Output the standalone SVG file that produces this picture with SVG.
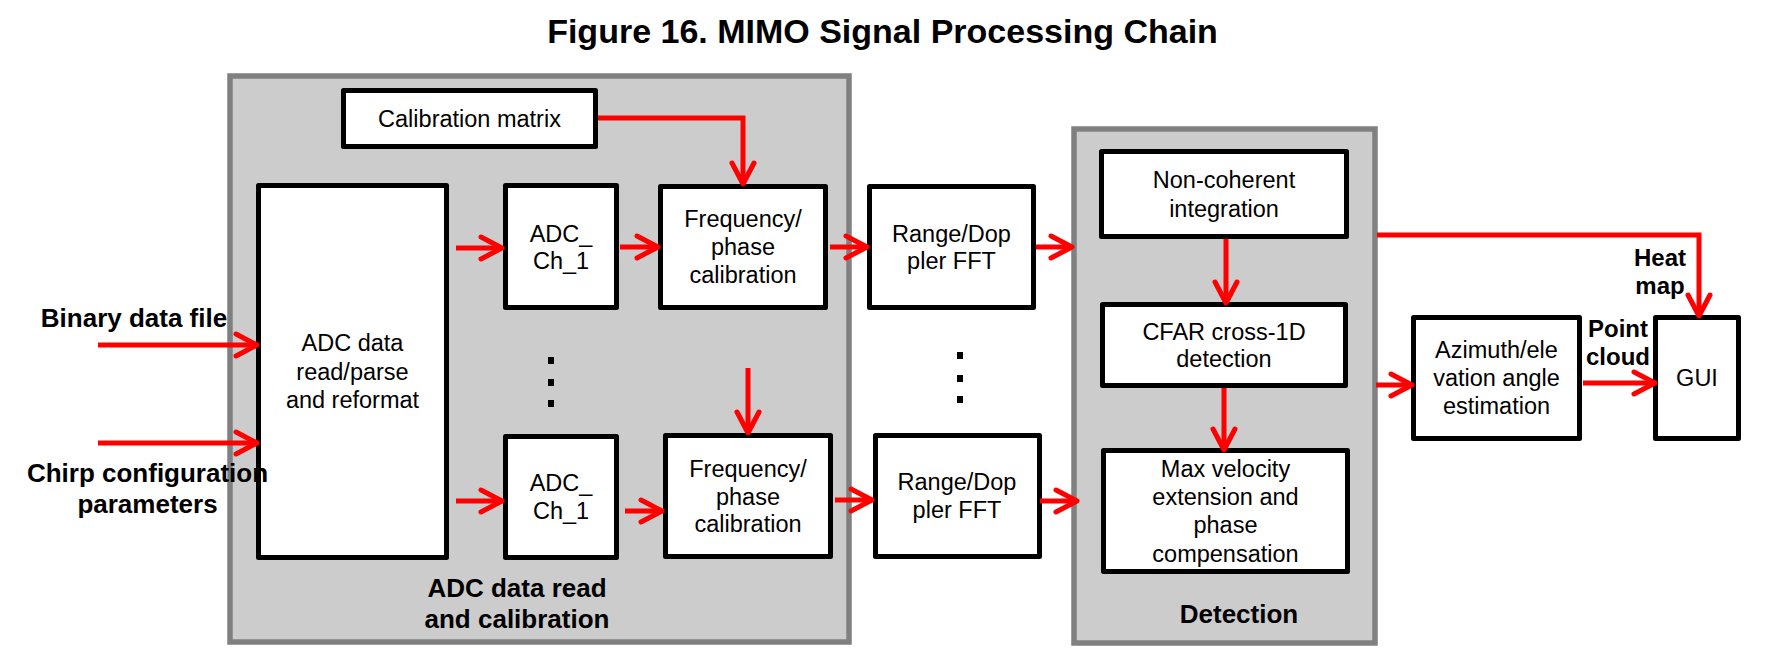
<svg xmlns="http://www.w3.org/2000/svg" width="1784" height="671" viewBox="0 0 1784 671">
<defs>
<style>
.grp{fill:#cccccc;stroke:#808080;stroke-width:5.5}
.box{fill:#ffffff;stroke:#000000;stroke-width:5;stroke-linejoin:round}
.t{font-family:"Liberation Sans",Arial,sans-serif;font-size:23.5px;fill:#000000;text-anchor:middle}
.b{font-family:"Liberation Sans",Arial,sans-serif;font-size:26px;font-weight:bold;fill:#000000;text-anchor:middle}
.bs{font-family:"Liberation Sans",Arial,sans-serif;font-size:24px;font-weight:bold;fill:#000000;text-anchor:middle}
.title{font-family:"Liberation Sans",Arial,sans-serif;font-size:34px;font-weight:bold;fill:#000000;text-anchor:middle}
.c{fill:none;stroke:#ff0000;stroke-width:5;marker-end:url(#ah)}
.dot{fill:#000000}
</style>
<marker id="ah" markerUnits="userSpaceOnUse" viewBox="-26 -14 30 28" markerWidth="30" markerHeight="28" refX="0" refY="0" orient="auto">
<path d="M-21,-11 L0,0 L-21,11" fill="none" stroke="#ff0000" stroke-width="5" stroke-linecap="round" stroke-linejoin="round"/>
</marker>
</defs>
<rect width="1784" height="671" fill="#ffffff"/>
<text class="title" x="882.5" y="43">Figure 16. MIMO Signal Processing Chain</text>

<g id="group-adc">
<rect class="grp" x="230" y="76" width="619" height="566"/>
<text class="b" x="517" y="597">ADC data read</text>
<text class="b" x="517" y="628">and calibration</text>
</g>
<g id="group-detection">
<rect class="grp" x="1074" y="129" width="301" height="514"/>
<text class="b" x="1239" y="623">Detection</text>
</g>

<g id="calibration-matrix">
<rect class="box" x="343.5" y="90.5" width="252" height="56"/>
<text class="t" x="469.5" y="127">Calibration matrix</text>
</g>
<g id="adc-read">
<rect class="box" x="258.5" y="185.5" width="188" height="372"/>
<text class="t" x="352.5" y="351">ADC data</text>
<text class="t" x="352.5" y="379.5">read/parse</text>
<text class="t" x="352.5" y="408">and reformat</text>
</g>
<g id="adc-ch-top">
<rect class="box" x="505.5" y="185.5" width="111" height="122"/>
<text class="t" x="561" y="242">ADC_</text>
<text class="t" x="561" y="269">Ch_1</text>
</g>
<g id="freq-top">
<rect class="box" x="660.5" y="186.5" width="165" height="121"/>
<text class="t" x="743" y="227">Frequency/</text>
<text class="t" x="743" y="255">phase</text>
<text class="t" x="743" y="283">calibration</text>
</g>
<g id="range-top">
<rect class="box" x="869.5" y="186.5" width="164" height="121"/>
<text class="t" x="951.5" y="242">Range/Dop</text>
<text class="t" x="951.5" y="269">pler FFT</text>
</g>
<g id="adc-ch-bottom">
<rect class="box" x="505.5" y="436.5" width="111" height="121"/>
<text class="t" x="561" y="491">ADC_</text>
<text class="t" x="561" y="519">Ch_1</text>
</g>
<g id="freq-bottom">
<rect class="box" x="665.5" y="435.5" width="165" height="121"/>
<text class="t" x="748" y="477">Frequency/</text>
<text class="t" x="748" y="505">phase</text>
<text class="t" x="748" y="532">calibration</text>
</g>
<g id="range-bottom">
<rect class="box" x="875.5" y="435.5" width="164" height="121"/>
<text class="t" x="957" y="490">Range/Dop</text>
<text class="t" x="957" y="518">pler FFT</text>
</g>
<g id="non-coherent">
<rect class="box" x="1101.5" y="151.5" width="245" height="85"/>
<text class="t" x="1224" y="188">Non-coherent</text>
<text class="t" x="1224" y="217">integration</text>
</g>
<g id="cfar">
<rect class="box" x="1102.5" y="304.5" width="243" height="81"/>
<text class="t" x="1224" y="340">CFAR cross-1D</text>
<text class="t" x="1224" y="367">detection</text>
</g>
<g id="max-velocity">
<rect class="box" x="1103.5" y="450.5" width="244" height="121"/>
<text class="t" x="1225.5" y="477">Max velocity</text>
<text class="t" x="1225.5" y="505">extension and</text>
<text class="t" x="1225.5" y="533">phase</text>
<text class="t" x="1225.5" y="562">compensation</text>
</g>
<g id="azimuth">
<rect class="box" x="1413.5" y="317.5" width="166" height="121"/>
<text class="t" x="1496.5" y="358">Azimuth/ele</text>
<text class="t" x="1496.5" y="386">vation angle</text>
<text class="t" x="1496.5" y="414">estimation</text>
</g>
<g id="gui">
<rect class="box" x="1655.5" y="317.5" width="83" height="121"/>
<text class="t" x="1697" y="386">GUI</text>
</g>

<g id="ellipsis">
<rect class="dot" x="548" y="357" width="6" height="7"/>
<rect class="dot" x="548" y="379" width="6" height="7"/>
<rect class="dot" x="548" y="400" width="6" height="7"/>
<rect class="dot" x="957" y="352" width="6" height="7"/>
<rect class="dot" x="957" y="375" width="6" height="7"/>
<rect class="dot" x="957" y="396" width="6" height="7"/>
</g>

<g id="connectors">
<path class="c" d="M98,345 L257,345"/>
<path class="c" d="M98,443 L257,443"/>
<path class="c" d="M598,118 L743,118 L743,184"/>
<path class="c" d="M456,248 L502,248"/>
<path class="c" d="M620,247 L658,247"/>
<path class="c" d="M830,247 L867,247"/>
<path class="c" d="M456,501 L502,501"/>
<path class="c" d="M625,511 L662,511"/>
<path class="c" d="M748,368 L748,433"/>
<path class="c" d="M835,500 L872,500"/>
<path class="c" d="M1036,247 L1072,247"/>
<path class="c" d="M1040,501 L1077,501"/>
<path class="c" d="M1226,239 L1226,303"/>
<path class="c" d="M1224,388 L1224,450"/>
<path class="c" d="M1376,385 L1412,385"/>
<path class="c" d="M1377,235 L1699,235 L1699,316"/>
<path class="c" d="M1583,383 L1655,383"/>
</g>

<g id="label-binary"><text class="b" x="134" y="327">Binary data file</text></g>
<g id="label-chirp"><text class="b" x="147.5" y="482">Chirp configuration</text><text class="b" x="147.5" y="513">parameters</text></g>
<g id="edge-labels">
<text class="bs" x="1660" y="266">Heat</text>
<text class="bs" x="1660" y="294">map</text>
<text class="bs" x="1618" y="337">Point</text>
<text class="bs" x="1618" y="365">cloud</text>
</g>
</svg>
